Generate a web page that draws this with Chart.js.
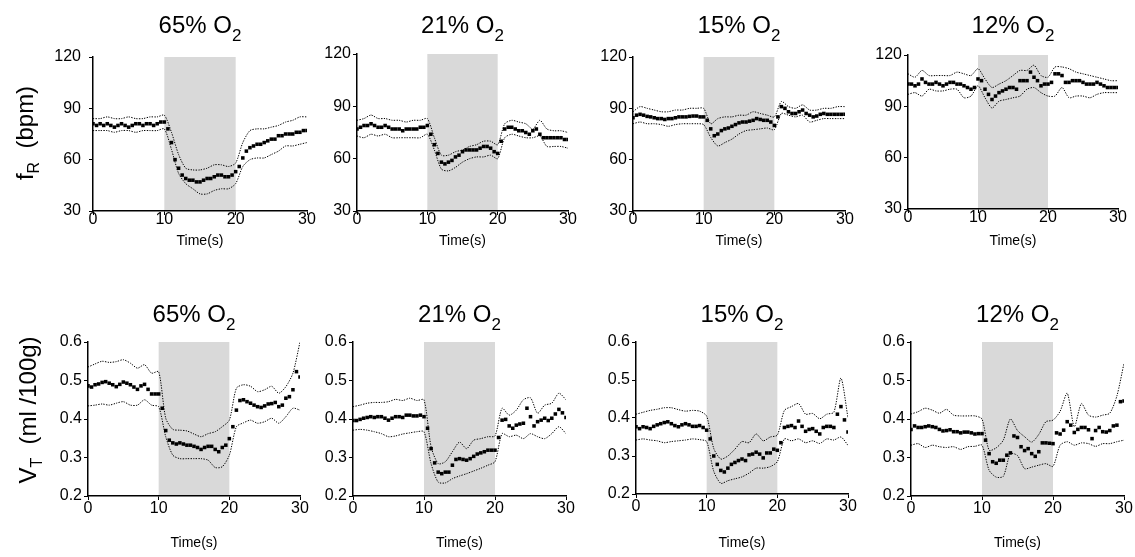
<!DOCTYPE html>
<html>
<head>
<meta charset="utf-8">
<script src="https://cdn.jsdelivr.net/npm/chart.js@4.4.1/dist/chart.umd.min.js"></script>
<style>
  body { margin: 0; background: #fff; width: 1135px; height: 557px; position: relative; overflow: hidden; }
  canvas { position: absolute; }
</style>
</head>
<body>
<script>
// time axis: means every 0.5 s, dotted bounds every 1 s
const timeHalf = [0,0.5,1,1.5,2,2.5,3,3.5,4,4.5,5,5.5,6,6.5,7,7.5,8,8.5,9,9.5,10,10.5,11,11.5,12,12.5,13,13.5,14,14.5,15,15.5,16,16.5,17,17.5,18,18.5,19,19.5,20,20.5,21,21.5,22,22.5,23,23.5,24,24.5,25,25.5,26,26.5,27,27.5,28,28.5,29,29.5,30];
const timeWhole = [0,1,2,3,4,5,6,7,8,9,10,11,12,13,14,15,16,17,18,19,20,21,22,23,24,25,26,27,28,29,30];
const xTicks = [0, 10, 20, 30];
const frTicks = [30, 60, 90, 120];
const vtTicks = [0.2, 0.3, 0.4, 0.5, 0.6];
const oxygen = ["65%", "21%", "15%", "12%"];
const shadeFrom = 10, shadeTo = 20;

// fR (bpm)
const frMean65 = [81,80,81,80,81,80,79,80,81,80,79,80,81,81,80,81,81,80,81,82,82,
  78,70,60,55,51,49,48,48,47,47,48,49,49,50,51,51,50,50,51,53,
  56,61,65,67,68,69,69,70,71,72,72,74,74,75,75,75,76,76,77,77];
const frUpper65 = [84,84,85,84,84,85,84,84,85,85,86,76,63,55,54,54,55,57,57,56,58,70,77,78,78,79,80,82,83,85,85];
const frLower65 = [77,77,77,76,77,77,76,77,77,77,78,66,52,46,43,40,40,42,43,43,46,56,60,61,61,63,65,68,68,69,70];

const frMean21 = [77,78,79,79,80,79,78,78,79,78,77,77,77,76,77,77,77,77,78,78,79,
  74,68,63,58,57,58,59,61,62,64,65,65,65,65,66,67,67,66,64,63,
  70,77,78,78,77,76,76,75,74,76,77,74,72,72,72,72,72,72,71,71];
const frUpper21 = [82,83,85,83,83,82,82,81,82,82,83,72,62,62,64,65,67,68,70,70,68,80,82,81,80,77,82,77,76,76,75];
const frLower21 = [73,72,74,73,74,72,72,72,72,72,74,65,54,53,55,58,60,61,61,62,60,72,74,73,72,72,73,67,67,67,66];

const frMean15 = [84.5,86,86.5,86,85.3,85,84.5,84,84,83.5,84,84,84.5,85,85,85,85.3,85.5,85.5,85,85,
  83,78,74,75,77,78,78.5,79.5,80.5,81.5,82,82,82.5,83,84,83.5,83,83,82,80,
  85,91,90,88,87,87,88,89,87,86,85,85.5,86.5,87,86.5,86.5,86.5,86.5,86.5,86.5];
const frUpper15 = [88,91,90,89,88,88,89,89,90,90,90,81,84,85,85,86,86,88,87,86,85,94,91,90,92,89,89,90,90,91,91];
const frLower15 = [81,82,81,81,80.5,79.5,80.5,81,81,81,80.5,73,68,70,72,75,77,77.5,78,78.5,77.5,87,86,85,86,82,83,84,84,84,84];

const frMean12 = [103,103,102,103,106,104,103,103,104,103,102,103,104,104,103,103,102,101,100,101,106,
  105,100,97,94,96,98,99,100,101,101,100,105,105,105,110,107,105,102,103,103,
  104,109,109,108,104,104,105,105,105,104,103,103,103,104,103,102,101,101,101,101];
const frUpper12 = [109,107,111,108,108,108,108,110,109,108,112,106,101,103,105,108,111,111,114,108,107,113,113,112,110,109,108,107,106,105,105];
const frLower12 = [97,98,96,100,99,99,100,100,95,96,102,95,89,93,94,95,96,100,101,98,96,96,101,95,96,96,95,97,98,98,98];

// VT (ml/100g)
const vtMean65 = [0.486,0.483,0.489,0.491,0.495,0.497,0.493,0.489,0.484,0.490,0.496,0.493,0.489,0.483,0.477,0.486,0.490,0.477,0.465,0.465,0.465,
  0.428,0.370,0.345,0.338,0.335,0.338,0.335,0.332,0.332,0.329,0.326,0.321,0.326,0.329,0.329,0.321,0.315,0.326,0.332,0.349,
  0.380,0.423,0.448,0.450,0.445,0.441,0.436,0.432,0.430,0.434,0.439,0.440,0.443,0.432,0.436,0.454,0.458,0.476,0.523,0.509];
const vtUpper65 = [0.535,0.543,0.550,0.547,0.549,0.554,0.545,0.532,0.541,0.519,0.523,0.402,0.373,0.371,0.369,0.361,0.354,0.362,0.367,0.380,0.397,0.480,0.489,0.485,0.471,0.476,0.485,0.467,0.484,0.519,0.600];
const vtLower65 = [0.434,0.436,0.439,0.436,0.441,0.445,0.436,0.436,0.450,0.436,0.432,0.354,0.306,0.297,0.297,0.297,0.297,0.293,0.274,0.276,0.306,0.380,0.390,0.397,0.389,0.393,0.402,0.389,0.406,0.428,0.423];

const vtMean21 = [0.396,0.396,0.399,0.402,0.404,0.406,0.404,0.406,0.406,0.402,0.397,0.402,0.406,0.406,0.404,0.410,0.410,0.408,0.408,0.410,0.406,
  0.376,0.323,0.286,0.262,0.258,0.262,0.262,0.280,0.295,0.297,0.295,0.293,0.297,0.303,0.309,0.312,0.315,0.319,0.319,0.319,
  0.352,0.397,0.399,0.382,0.376,0.384,0.387,0.389,0.428,0.406,0.382,0.393,0.397,0.402,0.396,0.402,0.413,0.425,0.416,0.404];
const vtUpper21 = [0.432,0.436,0.441,0.443,0.443,0.445,0.451,0.448,0.454,0.448,0.450,0.328,0.284,0.289,0.315,0.340,0.323,0.345,0.349,0.354,0.356,0.428,0.410,0.423,0.450,0.455,0.415,0.436,0.441,0.467,0.450];
const vtLower21 = [0.371,0.373,0.371,0.367,0.362,0.354,0.356,0.361,0.364,0.367,0.367,0.284,0.236,0.234,0.245,0.252,0.258,0.265,0.272,0.280,0.289,0.362,0.354,0.358,0.349,0.362,0.354,0.349,0.362,0.380,0.362];

const vtMean15 = [0.377,0.372,0.377,0.375,0.372,0.378,0.382,0.385,0.388,0.390,0.385,0.380,0.377,0.382,0.385,0.382,0.378,0.378,0.380,0.375,0.368,
  0.345,0.300,0.278,0.262,0.258,0.268,0.278,0.283,0.288,0.292,0.288,0.303,0.305,0.310,0.305,0.295,0.308,0.308,0.318,0.315,
  0.335,0.375,0.378,0.380,0.375,0.392,0.378,0.365,0.370,0.372,0.365,0.358,0.375,0.378,0.378,0.375,0.410,0.430,0.395,0.363];
const vtUpper15 = [0.410,0.415,0.420,0.423,0.427,0.427,0.422,0.418,0.420,0.418,0.405,0.320,0.292,0.300,0.318,0.338,0.335,0.358,0.340,0.350,0.355,0.420,0.430,0.438,0.410,0.412,0.398,0.410,0.415,0.505,0.400];
const vtLower15 = [0.342,0.345,0.342,0.340,0.335,0.338,0.340,0.342,0.345,0.343,0.338,0.260,0.228,0.235,0.240,0.245,0.255,0.268,0.268,0.272,0.285,0.345,0.340,0.345,0.335,0.340,0.333,0.345,0.342,0.350,0.328];

const vtMean12 = [0.373,0.382,0.378,0.378,0.380,0.382,0.380,0.378,0.373,0.369,0.370,0.372,0.367,0.367,0.364,0.366,0.366,0.364,0.361,0.362,0.362,
  0.345,0.310,0.289,0.285,0.293,0.293,0.306,0.312,0.356,0.352,0.328,0.318,0.323,0.310,0.303,0.315,0.338,0.338,0.337,0.336,
  0.364,0.361,0.371,0.393,0.384,0.365,0.373,0.378,0.378,0.372,0.349,0.370,0.378,0.367,0.366,0.370,0.382,0.384,0.445,0.447];
const vtUpper12 = [0.413,0.419,0.428,0.423,0.415,0.425,0.410,0.408,0.408,0.408,0.400,0.319,0.325,0.345,0.400,0.370,0.354,0.340,0.360,0.393,0.397,0.420,0.467,0.380,0.440,0.410,0.405,0.410,0.415,0.460,0.545];
const vtLower12 = [0.332,0.336,0.326,0.332,0.328,0.326,0.328,0.321,0.328,0.329,0.332,0.267,0.249,0.251,0.310,0.305,0.271,0.275,0.280,0.284,0.277,0.332,0.341,0.332,0.338,0.336,0.329,0.336,0.336,0.341,0.345];

const FONT = "'Liberation Sans', Arial, sans-serif";

// where each plot box sits on the page: [left, top, right, bottom]
const panels = [
  { o: oxygen[0], mean: frMean65, upper: frUpper65, lower: frLower65, ticks: frTicks, box: [93, 57, 307, 211], row: 0, yPad: 8, ylabel: "fR" },
  { o: oxygen[1], mean: frMean21, upper: frUpper21, lower: frLower21, ticks: frTicks, box: [357, 54, 568, 211], row: 0, yPad: 2 },
  { o: oxygen[2], mean: frMean15, upper: frUpper15, lower: frLower15, ticks: frTicks, box: [633, 57, 845, 211], row: 0, yPad: 2 },
  { o: oxygen[3], mean: frMean12, upper: frUpper12, lower: frLower12, ticks: frTicks, box: [908, 55, 1118, 209], row: 0, yPad: 2 },
  { o: oxygen[0], mean: vtMean65, upper: vtUpper65, lower: vtLower65, ticks: vtTicks, box: [88, 342, 300, 496], row: 1, yPad: 2, ylabel: "VT" },
  { o: oxygen[1], mean: vtMean21, upper: vtUpper21, lower: vtLower21, ticks: vtTicks, box: [353, 342, 566, 496], row: 1, yPad: 2 },
  { o: oxygen[2], mean: vtMean15, upper: vtUpper15, lower: vtLower15, ticks: vtTicks, box: [636, 342, 848, 494], row: 1, yPad: 2 },
  { o: oxygen[3], mean: vtMean12, upper: vtUpper12, lower: vtLower12, ticks: vtTicks, box: [911, 342, 1124, 496], row: 1, yPad: 2 }
];

const rowText = [
  { titleY: 33, timeY: 245, xPad: -5 },
  { titleY: 322, timeY: 547, xPad: -1 }
];

function drawParts(ctx, parts, x, y) {
  let total = 0;
  parts.forEach(p => {
    ctx.font = p.size + "px " + FONT;
    p.w = ctx.measureText(p.text).width;
    total += p.w;
  });
  let cx = x - total / 2;
  parts.forEach(p => {
    ctx.font = p.size + "px " + FONT;
    ctx.fillText(p.text, cx, y + (p.dy || 0));
    cx += p.w;
  });
}

const shadePlugin = {
  id: "shade",
  beforeDraw(chart) {
    const { ctx, chartArea: a, scales: { x } } = chart;
    const x0 = x.getPixelForValue(shadeFrom);
    const x1 = x.getPixelForValue(shadeTo);
    ctx.save();
    ctx.fillStyle = "#d9d9d9";
    ctx.fillRect(x0, a.top, x1 - x0, a.bottom - a.top);
    ctx.restore();
  }
};

const textPlugin = {
  id: "panelText",
  afterDraw(chart, args, opts) {
    const { ctx, chartArea: a } = chart;
    const cx = (a.left + a.right) / 2;
    ctx.save();
    ctx.fillStyle = "#000";
    ctx.textAlign = "left";
    ctx.textBaseline = "alphabetic";
    drawParts(ctx, [{ text: opts.o + " O", size: 24 }, { text: "2", size: 17, dy: 8 }], cx, opts.titleY - opts.offTop);
    drawParts(ctx, [{ text: "Time(s)", size: 14 }], cx, opts.timeY - opts.offTop);
    if (opts.ylabel) {
      const fr = opts.ylabel === "fR";
      const parts = fr
        ? [{ text: "f", size: 24 }, { text: "R", size: 16, dy: 6 }, { text: "  (bpm)", size: 24 }]
        : [{ text: "V", size: 24 }, { text: "T", size: 16, dy: 6 }, { text: "  (ml /100g)", size: 24 }];
      ctx.translate(fr ? 33 : 36, (fr ? 133 : 410) - opts.offTop);
      ctx.rotate(-Math.PI / 2);
      drawParts(ctx, parts, 0, 0);
    }
    ctx.restore();
  }
};

function makePanel(p) {
  const [l, t, r, b] = p.box;
  const rt = rowText[p.row];
  const W = p.ylabel ? l : 60;
  const T = 52, R = 20;
  const H = p.row === 0 ? 46 : 60;
  const cw = r - l + W + R;
  const ch = b - t + T + H;
  const canvas = document.createElement("canvas");
  canvas.width = cw;
  canvas.height = ch;
  canvas.style.left = (l - W) + "px";
  canvas.style.top = (t - T) + "px";
  canvas.style.width = cw + "px";
  canvas.style.height = ch + "px";
  document.body.appendChild(canvas);

  const isVt = p.ticks === vtTicks;
  const tickFont = { family: FONT, size: 16 };

  new Chart(canvas, {
    type: "line",
    data: {
      datasets: [
        {
          data: timeHalf.map((x, i) => ({ x, y: p.mean[i] })),
          showLine: false,
          pointStyle: "rect",
          pointRadius: 2.5,
          pointBorderWidth: 0,
          pointBackgroundColor: "#000",
          borderColor: "#000"
        },
        {
          data: timeWhole.map((x, i) => ({ x, y: p.upper[i] })),
          borderColor: "#000",
          borderWidth: 1,
          borderDash: [1.3, 1.3],
          pointRadius: 0,
          tension: 0.25
        },
        {
          data: timeWhole.map((x, i) => ({ x, y: p.lower[i] })),
          borderColor: "#000",
          borderWidth: 1,
          borderDash: [1.3, 1.3],
          pointRadius: 0,
          tension: 0.25
        }
      ]
    },
    options: {
      responsive: false,
      animation: false,
      events: [],
      layout: { padding: { left: 0, top: T, right: R, bottom: 0 } },
      plugins: {
        legend: { display: false },
        tooltip: { enabled: false },
        panelText: { o: p.o, ylabel: p.ylabel, titleY: rt.titleY, timeY: rt.timeY, offTop: t - T }
      },
      scales: {
        x: {
          type: "linear",
          min: 0,
          max: 30,
          afterFit: s => { s.height = H; },
          afterBuildTicks: s => { s.ticks = xTicks.map(v => ({ value: v })); },
          grid: { drawOnChartArea: false, color: "#000", tickLength: 4 },
          border: { color: "#000", width: 1.5 },
          ticks: { color: "#000", font: tickFont, padding: rt.xPad, maxRotation: 0 }
        },
        y: {
          min: p.ticks[0],
          max: p.ticks[p.ticks.length - 1],
          afterFit: s => { s.width = W; },
          afterBuildTicks: s => { s.ticks = p.ticks.map(v => ({ value: v })); },
          grid: { drawOnChartArea: false, color: "#000", tickLength: 4 },
          border: { color: "#000", width: 1.5 },
          ticks: {
            color: "#000",
            font: tickFont,
            padding: p.yPad,
            callback: v => isVt ? v.toFixed(1) : String(v)
          }
        }
      }
    },
    plugins: [shadePlugin, textPlugin]
  });
}

panels.forEach(makePanel);
</script>
</body>
</html>
